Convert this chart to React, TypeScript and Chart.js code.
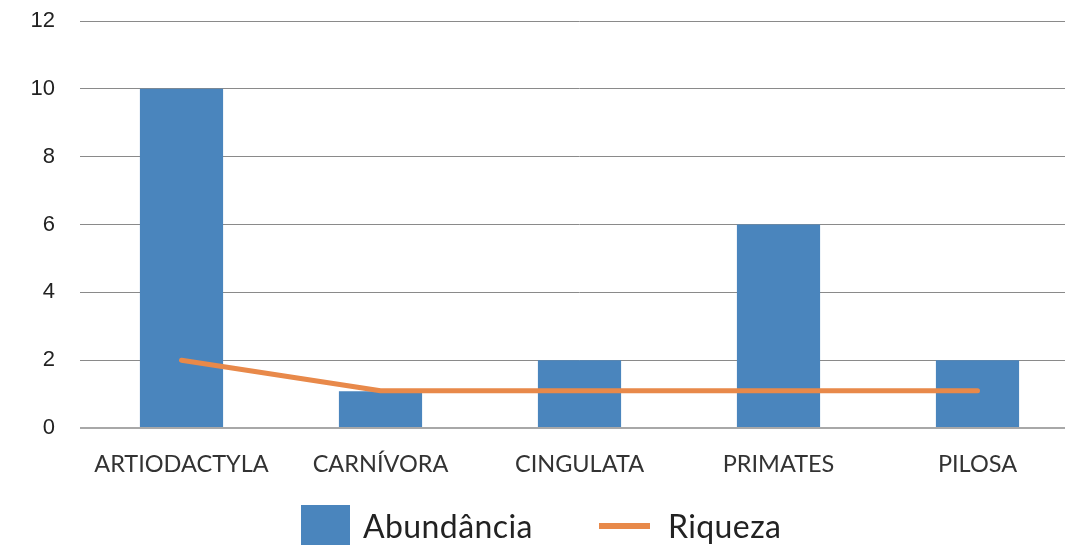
import React, { useEffect, useRef } from "react";
import { Chart, registerables } from "chart.js";

Chart.register(...registerables);

const categories = ["ARTIODACTYLA", "CARNÍVORA", "CINGULATA", "PRIMATES", "PILOSA"];
const abundancia = [10, 1.08, 2, 6, 2];
const riqueza = [2, 1.1, 1.1, 1.1, 1.1];
const yTicks = [0, 2, 4, 6, 8, 10, 12];

const BLUE = "#4a85bd";
const ORANGE = "#e8894a";

export default function App() {
  const ref = useRef<HTMLCanvasElement | null>(null);

  useEffect(() => {
    document.body.style.margin = "0";
    document.body.style.overflow = "hidden";
    const chart = new Chart(ref.current!, {
      type: "bar",
      data: {
        labels: categories,
        datasets: [
          {
            type: "line",
            label: "Riqueza",
            data: riqueza,
            borderColor: ORANGE,
            backgroundColor: ORANGE,
            borderWidth: 5,
            borderCapStyle: "round",
            borderJoinStyle: "round",
            pointRadius: 0,
            tension: 0,
            order: 0,
          },
          {
            type: "bar",
            label: "Abundância",
            data: abundancia,
            backgroundColor: BLUE,
            categoryPercentage: 1,
            barPercentage: 0.418,
            order: 1,
          },
        ],
      },
      options: {
        animation: false,
        responsive: false,
        layout: { padding: { top: 21, right: 1, left: 0, bottom: 0 } },
        plugins: { legend: { display: false }, tooltip: { enabled: false } },
        scales: {
          x: {
            grid: { display: false, drawTicks: false },
            border: { display: false },
            ticks: {
              color: "#333",
              font: { family: "Lato", size: 23.5 },
              padding: 22,
              maxRotation: 0,
            },
            afterFit: (s: any) => {
              s.height = 117;
            },
          },
          y: {
            min: 0,
            max: 12,
            afterBuildTicks: (s: any) => {
              s.ticks = yTicks.map((v) => ({ value: v }));
            },
            grid: {
              drawTicks: true,
              tickLength: 2,
              tickColor: (c: any) => (c.tick && c.tick.value === 0 ? "#a8a8a8" : "#8a8a8a"),
              color: (c: any) => (c.tick && c.tick.value === 0 ? "#a8a8a8" : "#8a8a8a"),
              lineWidth: (c: any) => (c.tick && c.tick.value === 0 ? 2 : 1),
            },
            border: { display: false },
            ticks: {
              color: "#222",
              font: { family: "Liberation Sans", size: 22 },
              padding: 25,
            },
            afterFit: (s: any) => {
              s.width = 82;
              s.paddingTop = 0;
              s.paddingBottom = 0;
            },
          },
        },
      },
    });
    return () => chart.destroy();
  }, []);

  const textStyle: React.CSSProperties = {
    position: "absolute",
    top: 507,
    fontFamily: "Lato",
    fontSize: 32,
    letterSpacing: 0.4,
    lineHeight: "38px",
    color: "#222",
    whiteSpace: "nowrap",
  };

  return (
    <div style={{ position: "relative", width: 1065, height: 545, overflow: "hidden" }}>
      <canvas ref={ref} width={1078} height={545} style={{ display: "block" }} />
      <span style={{ position: "absolute", left: 301, top: 505, width: 49, height: 42, background: BLUE }} />
      <span style={{ ...textStyle, left: 363 }}>Abundância</span>
      <span style={{ position: "absolute", left: 599, top: 523, width: 51, height: 6, background: ORANGE }} />
      <span style={{ ...textStyle, left: 668 }}>Riqueza</span>
    </div>
  );
}
